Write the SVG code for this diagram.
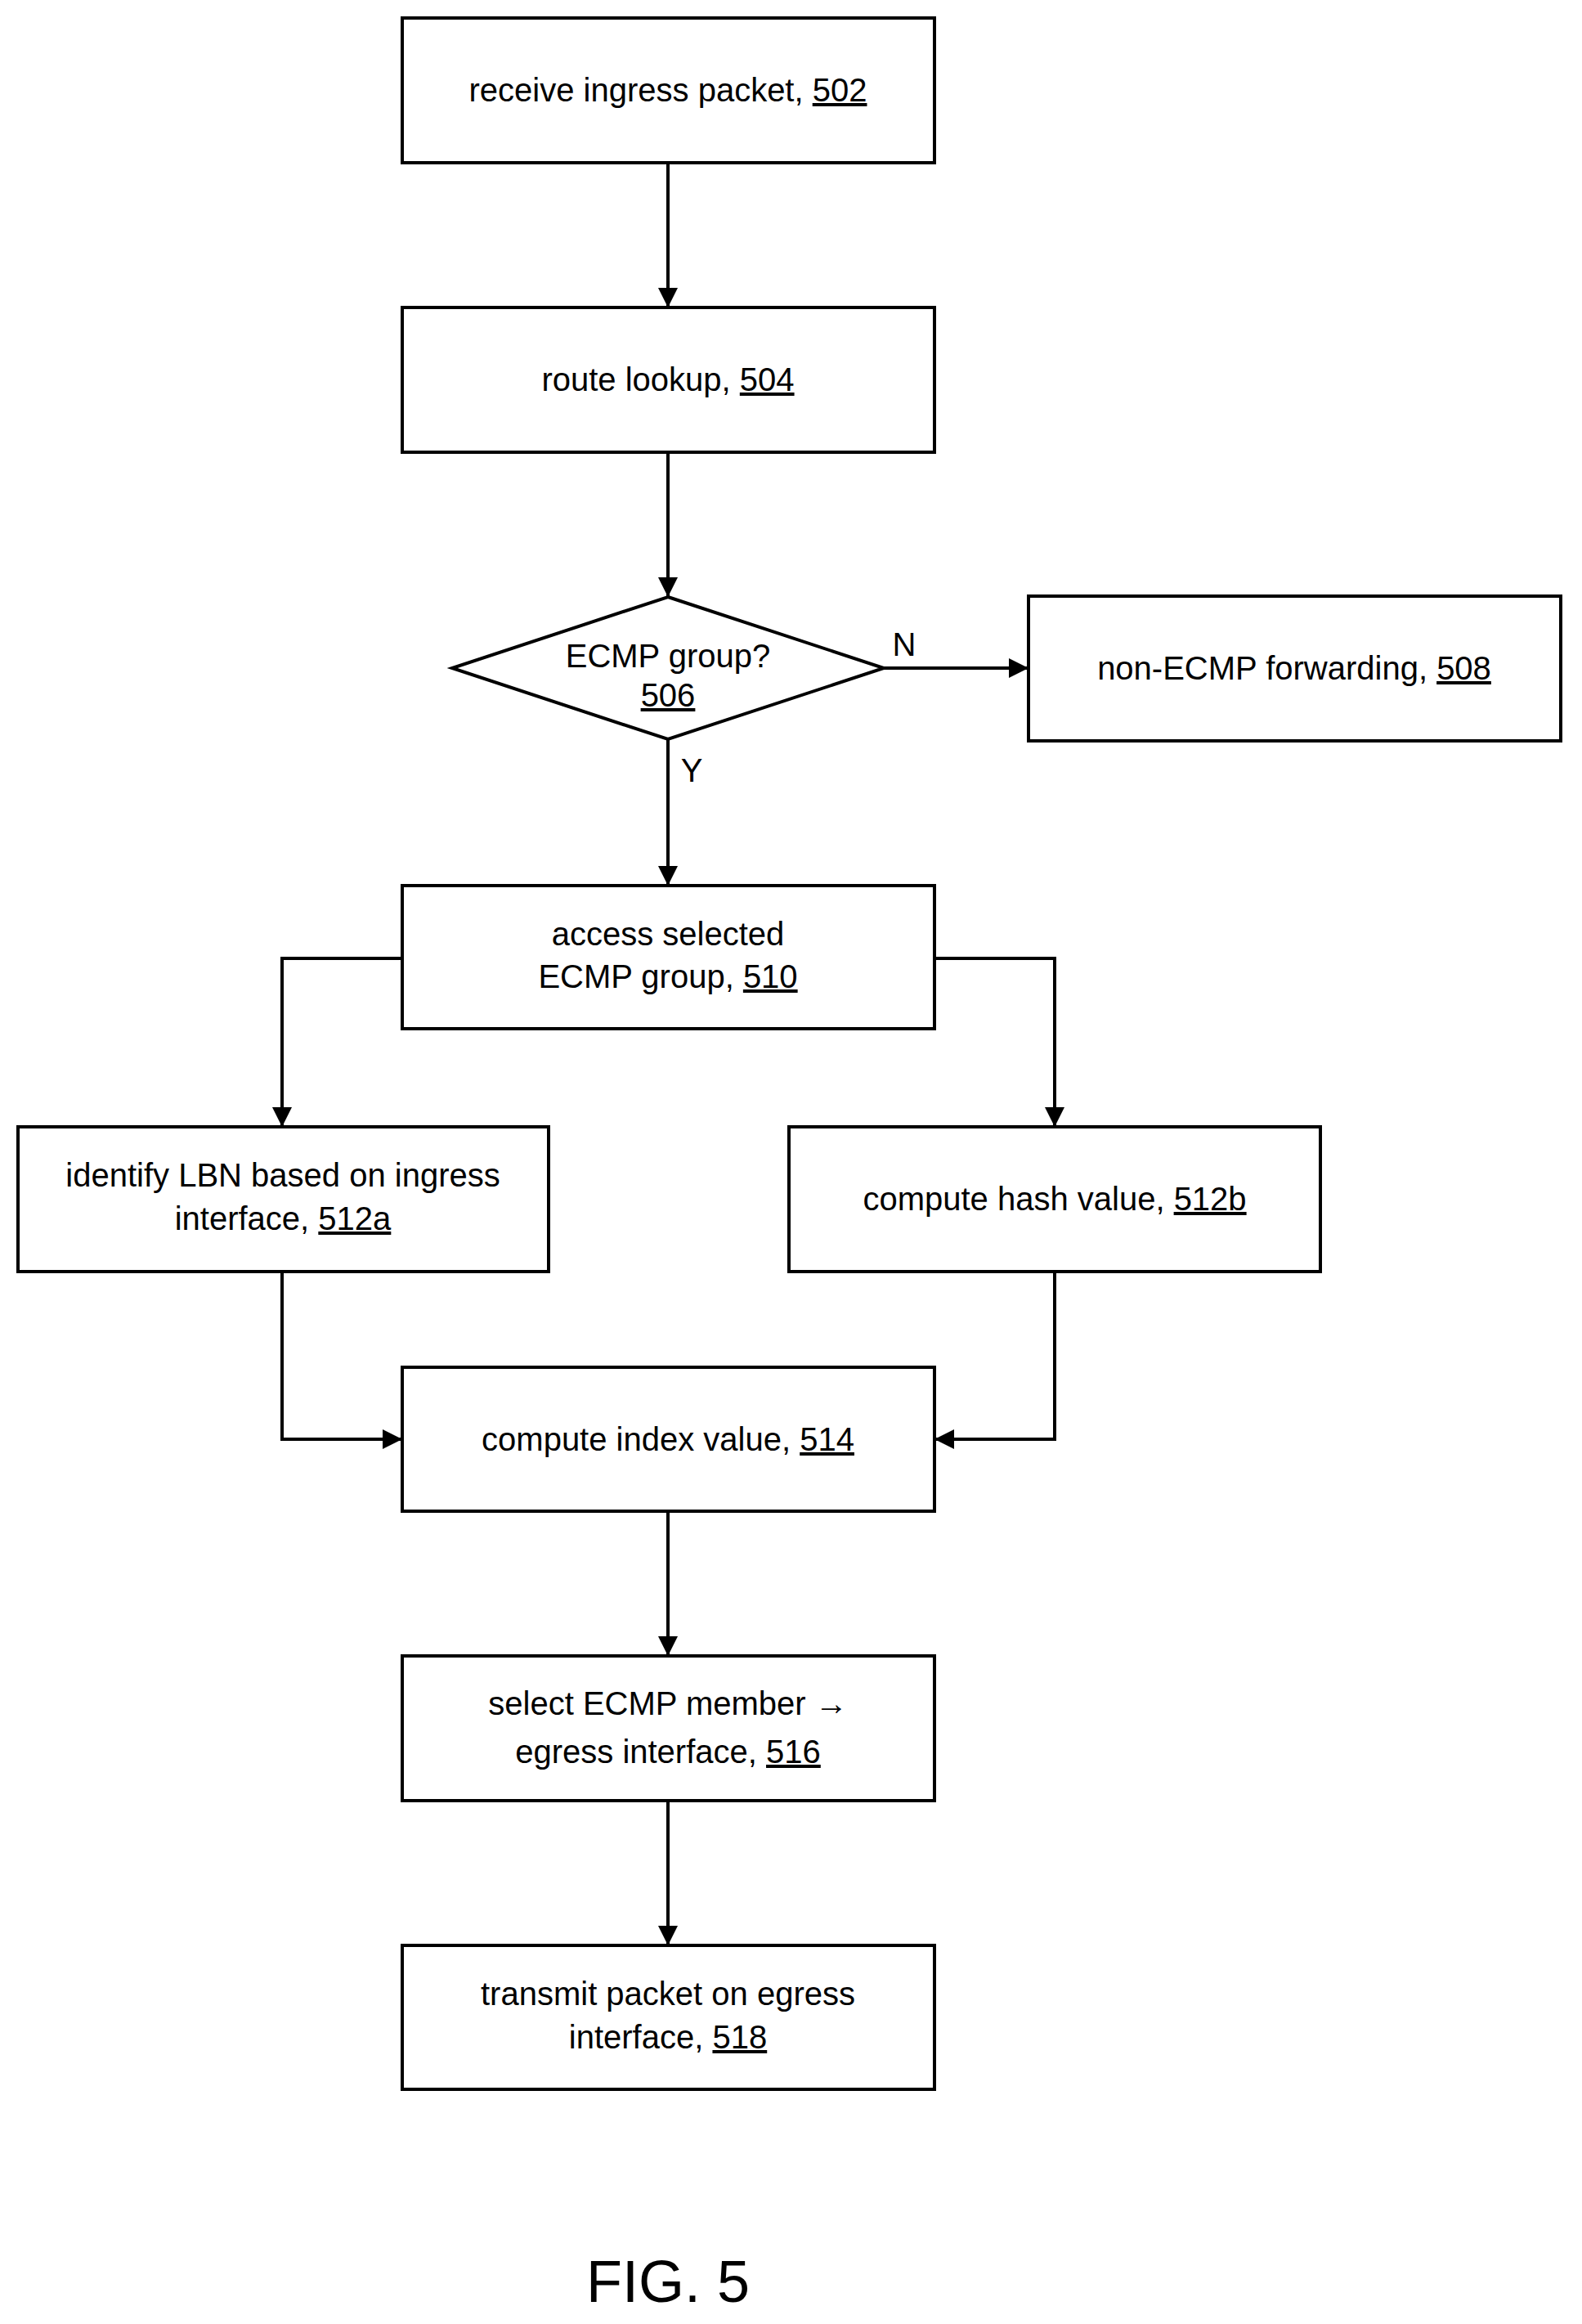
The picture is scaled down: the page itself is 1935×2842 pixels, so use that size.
<svg xmlns="http://www.w3.org/2000/svg" width="1935" height="2842" viewBox="0 0 1935 2842">
<style>
.b{fill:#fff;stroke:#000;stroke-width:4}
.c{fill:none;stroke:#000;stroke-width:4}
text{font-family:"Liberation Sans",Arial,sans-serif;font-size:40px;text-anchor:middle;fill:#000}
.u{text-decoration:underline}
</style>
<defs><marker id="a" viewBox="0 0 10 10" refX="10" refY="5" markerWidth="6" markerHeight="6" orient="auto"><path d="M0,0L10,5L0,10z"/></marker></defs>
<rect width="1935" height="2842" fill="#fff"/>
<g id="connectors">
<path class="c" d="M817,199V376" marker-end="url(#a)"/>
<path class="c" d="M817,553V730" marker-end="url(#a)"/>
<path class="c" d="M1081,817H1258" marker-end="url(#a)"/>
<path class="c" d="M817,904V1083" marker-end="url(#a)"/>
<path class="c" d="M492,1172H345V1378" marker-end="url(#a)"/>
<path class="c" d="M1143,1172H1290V1378" marker-end="url(#a)"/>
<path class="c" d="M345,1555V1760H492" marker-end="url(#a)"/>
<path class="c" d="M1290,1555V1760H1143" marker-end="url(#a)"/>
<path class="c" d="M817,1848V2025" marker-end="url(#a)"/>
<path class="c" d="M817,2202V2379" marker-end="url(#a)"/>
<text x="1106" y="802">N</text>
<text x="846" y="956">Y</text>
</g>
<g id="n502"><rect class="b" x="492" y="22" width="651" height="177"/><text x="817" y="124">receive ingress packet, <tspan class="u">502</tspan></text></g>
<g id="n504"><rect class="b" x="492" y="376" width="651" height="177"/><text x="817" y="478">route lookup, <tspan class="u">504</tspan></text></g>
<g id="n506"><path class="b" d="M817,730L1081,817L817,904L553,817z"/><text x="817" y="816">ECMP group?</text><text x="817" y="864" class="u">506</text></g>
<g id="n508"><rect class="b" x="1258" y="729" width="651" height="177"/><text x="1583" y="831">non-ECMP forwarding, <tspan class="u">508</tspan></text></g>
<g id="n510"><rect class="b" x="492" y="1083" width="651" height="175"/><text x="817" y="1156">access selected</text><text x="817" y="1208">ECMP group, <tspan class="u">510</tspan></text></g>
<g id="n512a"><rect class="b" x="22" y="1378" width="649" height="177"/><text x="346" y="1451">identify LBN based on ingress</text><text x="346" y="1504">interface, <tspan class="u">512a</tspan></text></g>
<g id="n512b"><rect class="b" x="965" y="1378" width="650" height="177"/><text x="1290" y="1480">compute hash value, <tspan class="u">512b</tspan></text></g>
<g id="n514"><rect class="b" x="492" y="1672" width="651" height="176"/><text x="817" y="1774">compute index value, <tspan class="u">514</tspan></text></g>
<g id="n516"><rect class="b" x="492" y="2025" width="651" height="177"/><text x="817" y="2097">select ECMP member →</text><text x="817" y="2156">egress interface, <tspan class="u">516</tspan></text></g>
<g id="n518"><rect class="b" x="492" y="2379" width="651" height="176"/><text x="817" y="2452">transmit packet on egress</text><text x="817" y="2505">interface, <tspan class="u">518</tspan></text></g>
<text x="817" y="2815" style="font-size:72px">FIG. 5</text>
</svg>
